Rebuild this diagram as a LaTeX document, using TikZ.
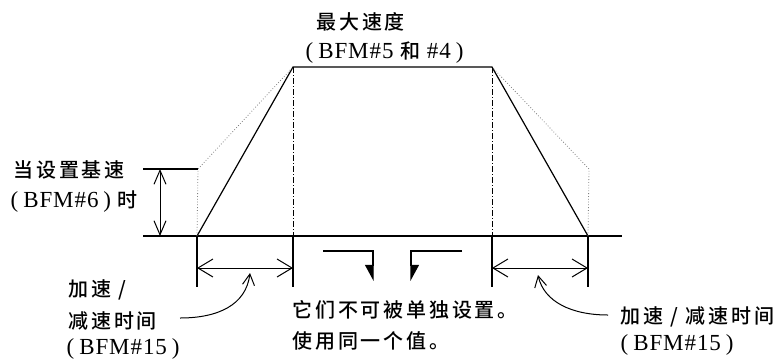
\documentclass[tikz,border=0pt]{standalone}
\usepackage{fontspec}
\setmainfont{Liberation Serif}[LetterSpace=4]
\newfontfamily\cjk{Noto Sans CJK SC}[UprightFont={* Medium},LetterSpace=14]
\newcommand\pgap{\hspace{5pt}}
\usetikzlibrary{arrows.meta}
\begin{document}
\begin{tikzpicture}[x=1pt,y=-1pt,line width=1.2pt,
    txt/.style={anchor=west,inner sep=0pt,font=\fontsize{20}{22}\selectfont},
    lat/.style={anchor=west,inner sep=0pt,font=\fontsize{23}{25}\selectfont},
    dimh/.style={{Straight Barb[length=15pt,width=18pt]}-{Straight Barb[length=15pt,width=18pt]},line width=1pt},
    dimv/.style={{Straight Barb[length=14pt,width=12pt]}-{Straight Barb[length=14pt,width=12pt]},line width=1pt},
    lead/.style={-{Straight Barb[length=11pt,width=12pt]},line width=1pt},
    oldramp/.style={dotted,line width=0.8pt,gray},
    dashdot/.style={dash pattern=on 6pt off 2pt on 1pt off 2pt,line width=1pt}]
    \useasboundingbox (0,0) rectangle (778,360);
    %
    \coordinate (L) at (143,236);
    \coordinate (R) at (622,236);
    \coordinate (A) at (197,236);
    \coordinate (B) at (293,67);
    \coordinate (C) at (492,67);
    \coordinate (D) at (588,236);
    \coordinate (E) at (198,169);
    \coordinate (F) at (589,169);
    % 
    \draw (L) -- (R);
    % 
    \draw (A) -- (B) -- (C) -- (D);
    % 
    \draw[oldramp] (A) -- (E) -- (B);
    \draw[oldramp] (D) -- (F) -- (C);
    % 
    \coordinate (B0) at (293,236);
    \coordinate (C0) at (492,236);
    \draw[dashdot] (B) -- (B0);
    \draw[dashdot] (C) -- (C0);
    %%%%%%%%%%%%%%%%%%%%%% 
    \coordinate (A1) at (197,287);
    \coordinate (B1) at (293,287);
    \coordinate (C1) at (492,287);
    \coordinate (D1) at (588,287);
    \draw (A) -- (A1);
    \draw (B0) -- (B1);
    \draw (C0) -- (C1);
    \draw (D) -- (D1);
    % 
    \coordinate (A2) at (197,268);
    \coordinate (B2) at (293,268);
    \coordinate (C2) at (492,268);
    \coordinate (D2) at (588,268);
    \draw[dimh] (A2) -- (B2);
    \draw[dimh] (C2) -- (D2);
    %%%%%%%%%%%%%%%%%%%%%% 
    \coordinate (G) at (143,169);
    \draw (G) -- (E);
    % 
    \coordinate (H) at (160,169);
    \coordinate (H1) at (160,236);
    \draw[dimv] (H) -- (H1);
    %%%%%%%%%%%%%%%%%%%%%% 
    \coordinate (P) at (323,251);
    \coordinate (P1) at (373,251);
    \coordinate (P2) at (373,281);
    \draw[-{Triangle[length=15pt,width=16pt,right]}] (P) -- (P1) -- (P2);
    % 
    \coordinate (Q) at (462,251);
    \coordinate (Q1) at (411,251);
    \coordinate (Q2) at (411,281);
    \draw[-{Triangle[length=15pt,width=16pt,left]}] (Q) -- (Q1) -- (Q2);
    %%%%%%%%%%%%%%%%%%%%%% 
    \node[txt] (T1) at (316,22) {\cjk 最大速度};
    \node[lat] (T2) at (305,53) {(\pgap BFM\#5 {\fontsize{20}{22}\cjk 和} \#4\pgap)};
    % 
    \node[txt] (U1) at (13,170) {\cjk 当设置基速};
    \node[lat] (U2) at (10,202) {(\pgap BFM\#6\pgap) {\fontsize{20}{22}\cjk 时}};
    % 
    \node[txt] (V1) at (68,290) {\cjk 加速 /};
    \node[txt] (V2) at (68,321) {\cjk 减速时间};
    \node[lat] (V3) at (66,349) {(\pgap BFM\#15\pgap)};
    % 
    \node[txt] (W1) at (292,310) {\cjk 它们不可被单独设置。};
    \node[txt] (W2) at (292,341) {\cjk 使用同一个值。};
    % 
    \node[txt] (X1) at (620,317) {\cjk 加速 / 减速时间};
    \node[lat] (X2) at (620,345) {(\pgap BFM\#15\pgap)};
    %%%%%%%%%%%%%%%%%%%%%% 
    \coordinate (S) at (180,318);
    \coordinate (S1) at (250,273);
    \draw[lead] (S) .. controls (218,318) and (246,305) .. (S1);
    % 
    \coordinate (K) at (608,315);
    \coordinate (K1) at (538,275);
    \draw[lead] (K) .. controls (572,315) and (544,302) .. (K1);
\end{tikzpicture}
\end{document}
